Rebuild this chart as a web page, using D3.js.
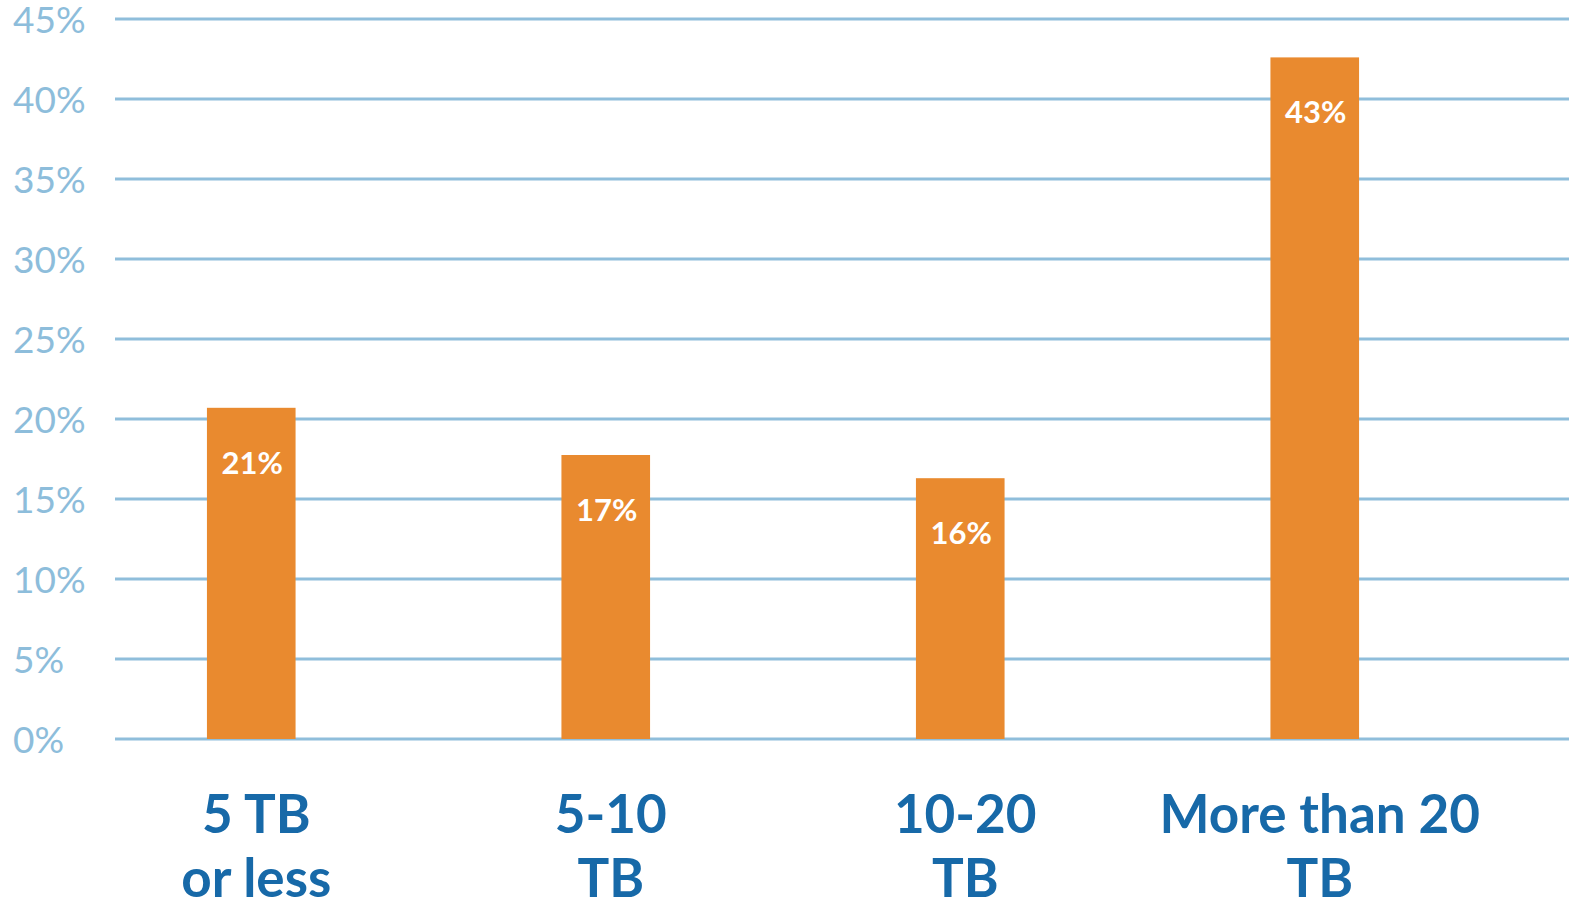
<!DOCTYPE html>
<html>
<head>
<meta charset="utf-8">
<script src="https://cdn.jsdelivr.net/npm/d3@7"></script>
<style>
  html, body { margin: 0; padding: 0; background: #fff; }
  svg { display: block; }
</style>
</head>
<body>
<svg id="chart"></svg>
<script>
'use strict'

// data
const categories = [['5 TB', 'or less'], ['5-10', 'TB'], ['10-20', 'TB'], ['More than 20', 'TB']]
const values = [20.7, 17.75, 16.3, 42.6]
const valueLabels = ['21%', '17%', '16%', '43%']
const yTicks = [0, 5, 10, 15, 20, 25, 30, 35, 40, 45]

const width = 1569
const height = 907

const svg = d3.select('#chart')
  .attr('width', width)
  .attr('height', height)

const yScale = d3.scaleLinear()
  .domain([0, 45])
  .range([739, 19])

const xScale = d3.scaleBand()
  .domain(d3.range(categories.length))
  .range([74, 1492])
  .paddingInner(0.75)
  .paddingOuter(0.375)

// grid lines
svg.append('g')
  .selectAll('line')
  .data(yTicks)
  .enter()
  .append('line')
    .attr('x1', 115)
    .attr('x2', width)
    .attr('y1', d => yScale(d))
    .attr('y2', d => yScale(d))
    .attr('stroke', '#8fbedb')
    .attr('stroke-width', 3)

// y tick labels
svg.append('g')
  .selectAll('text')
  .data(yTicks)
  .enter()
  .append('text')
    .attr('x', 13)
    .attr('y', d => yScale(d))
    .attr('dy', '0.38em')
    .attr('font-family', 'Lato, sans-serif')
    .attr('font-size', 37)
    .attr('fill', '#8dbddb')
    .text(d => d + '%')

// bars
svg.append('g')
  .selectAll('rect')
  .data(values)
  .enter()
  .append('rect')
    .attr('x', (d, i) => xScale(i))
    .attr('y', d => yScale(d))
    .attr('width', xScale.bandwidth())
    .attr('height', d => yScale(0) - yScale(d))
    .attr('fill', '#e98a2f')

// value labels inside bars
svg.append('g')
  .selectAll('text')
  .data(values)
  .enter()
  .append('text')
    .attr('x', (d, i) => xScale(i) + xScale.bandwidth() / 2 + 1)
    .attr('y', d => yScale(d) + 66)
    .attr('text-anchor', 'middle')
    .attr('font-family', 'Lato, sans-serif')
    .attr('font-weight', 'bold')
    .attr('font-size', 31)
    .attr('fill', '#ffffff')
    .text((d, i) => valueLabels[i])

// category labels
const cats = svg.append('g')
  .selectAll('text')
  .data(categories)
  .enter()
  .append('text')
    .attr('x', (d, i) => xScale(i) + xScale.bandwidth() / 2 + 5)
    .attr('y', 833)
    .attr('text-anchor', 'middle')
    .attr('font-family', 'Lato, sans-serif')
    .attr('font-weight', 'bold')
    .attr('font-size', 53)
    .attr('fill', '#1769a8')

cats.selectAll('tspan')
  .data(d => d)
  .enter()
  .append('tspan')
    .attr('x', function () { return d3.select(this.parentNode).attr('x') })
    .attr('dy', (d, i) => i === 0 ? 0 : 64)
    .text(d => d)
</script>
</body>
</html>
